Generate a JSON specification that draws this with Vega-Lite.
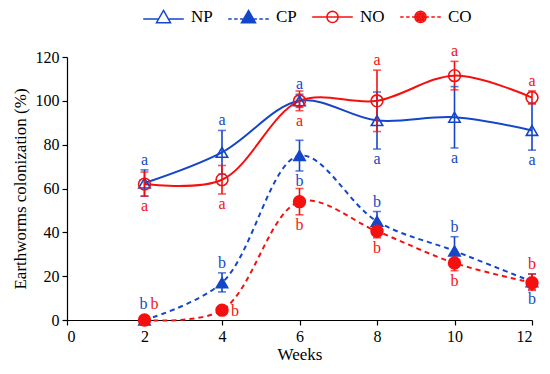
{
  "$schema": "https://vega.github.io/schema/vega-lite/v6.json",
  "width": 465,
  "height": 263,
  "autosize": "none",
  "padding": {"left": 67, "top": 57, "right": 18, "bottom": 54},
  "background": "white",
  "config": {
    "view": {"stroke": null},
    "font": "Liberation Serif",
    "axis": {"grid": false, "domainColor": "black", "tickColor": "black", "labelColor": "black", "titleColor": "black", "labelFont": "Liberation Serif", "titleFont": "Liberation Serif", "labelFontSize": 16, "titleFontSize": 17, "titleFontWeight": "normal", "tickSize": 5, "domainWidth": 1.2, "tickWidth": 1.2}
  },
  "data": {
    "values": [
      {"series": "NP", "week": 2, "value": 62.5, "lo": 56.5, "hi": 68.5, "letter": "a", "pos": "above"},
      {"series": "NP", "week": 4, "value": 76.5, "lo": 66.5, "hi": 86.5, "letter": "a", "pos": "above"},
      {"series": "NP", "week": 6, "value": 100, "lo": 97, "hi": 103, "letter": "a", "pos": "above"},
      {"series": "NP", "week": 8, "value": 91, "lo": 78, "hi": 104, "letter": "a", "pos": "below"},
      {"series": "NP", "week": 10, "value": 92.5, "lo": 78.5, "hi": 106.5, "letter": "a", "pos": "below"},
      {"series": "NP", "week": 12, "value": 86.5, "lo": 77.5, "hi": 99, "letter": "a", "pos": "below"},
      {"series": "CP", "week": 2, "value": 0, "lo": 0, "hi": 0, "letter": "b", "pos": "above2"},
      {"series": "CP", "week": 4, "value": 17, "lo": 12.8, "hi": 21.5, "letter": "b", "pos": "above"},
      {"series": "CP", "week": 6, "value": 75, "lo": 68, "hi": 82, "letter": "b", "pos": "below"},
      {"series": "CP", "week": 8, "value": 45, "lo": 40.5, "hi": 49.5, "letter": "b", "pos": "above"},
      {"series": "CP", "week": 10, "value": 31.5, "lo": 25.5, "hi": 38, "letter": "b", "pos": "above"},
      {"series": "CP", "week": 12, "value": 17.5, "lo": 14, "hi": 21, "letter": "b", "pos": "below"},
      {"series": "NO", "week": 2, "value": 62, "lo": 56.5, "hi": 67.5, "letter": "a", "pos": "below"},
      {"series": "NO", "week": 4, "value": 64, "lo": 57.5, "hi": 70.5, "letter": "a", "pos": "below"},
      {"series": "NO", "week": 6, "value": 100, "lo": 95.5, "hi": 104.5, "letter": "a", "pos": "below"},
      {"series": "NO", "week": 8, "value": 100, "lo": 86, "hi": 114, "letter": "a", "pos": "above"},
      {"series": "NO", "week": 10, "value": 111.5, "lo": 105, "hi": 118, "letter": "a", "pos": "above"},
      {"series": "NO", "week": 12, "value": 101.5, "lo": 98.5, "hi": 104.5, "letter": "a", "pos": "above"},
      {"series": "CO", "week": 2, "value": 0, "lo": 0, "hi": 0, "letter": "b", "pos": "above2r"},
      {"series": "CO", "week": 4, "value": 4.5, "lo": 4.5, "hi": 4.5, "letter": "b", "pos": "right"},
      {"series": "CO", "week": 6, "value": 54, "lo": 48, "hi": 60, "letter": "b", "pos": "below"},
      {"series": "CO", "week": 8, "value": 40.5, "lo": 37.5, "hi": 43.5, "letter": "b", "pos": "below"},
      {"series": "CO", "week": 10, "value": 26, "lo": 22.5, "hi": 29.5, "letter": "b", "pos": "below"},
      {"series": "CO", "week": 12, "value": 17, "lo": 13.5, "hi": 21, "letter": "b", "pos": "above"}
    ]
  },
  "encoding": {
    "x": {"field": "week", "type": "quantitative", "scale": {"domain": [0, 12], "nice": false}, "axis": {"title": "Weeks", "values": [0, 2, 4, 6, 8, 10, 12], "labelPadding": 3, "titlePadding": 2}}
  },
  "layer": [
    {
      "transform": [{"filter": "datum.week < 0"}],
      "mark": {"type": "point", "filled": false, "strokeWidth": 1.5, "opacity": 1},
      "encoding": {
        "y": {"field": "value", "type": "quantitative", "scale": {"domain": [0, 120], "nice": false}, "axis": {"title": "Earthworms colonization (%)", "values": [0, 20, 40, 60, 80, 100, 120], "labelPadding": 3, "titlePadding": 6}},
        "color": {"field": "series", "type": "nominal", "scale": {"domain": ["NP", "CP", "NO", "CO"], "range": ["#1446c8", "#1446c8", "#f51010", "#f51010"]},
          "legend": {
            "orient": "none", "legendX": 88, "legendY": -49, "direction": "horizontal", "title": null, "padding": 0,
            "labelFont": "Liberation Serif", "labelFontSize": 17, "labelColor": "black",
            "symbolSize": 196, "labelOffset": 19, "columnPadding": 12, "symbolStrokeWidth": 1.5, "symbolOpacity": 1
          }
        },
        "shape": {"field": "series", "type": "nominal", "scale": {"domain": ["NP", "CP", "NO", "CO"], "range": [
          "M-2.9,0.3H-0.8M0.8,0.3H2.9M0,-0.9L1,0.85L-1,0.85Z",
          "M-2.9,0.3H-2.4M-2.05,0.3H-1.55M-1.2,0.3H-0.8M0.8,0.3H1.2M1.55,0.3H2.05M2.4,0.3H2.9M0,-0.9L1,0.85L-1,0.85ZM0,-0.608L0.75,0.704L-0.75,0.704ZM0,-0.317L0.5,0.558L-0.5,0.558ZM0,-0.025L0.25,0.413L-0.25,0.413ZM0,0.2L0.05,0.3L-0.05,0.3Z",
          "M-2.9,0H2.9M0.8,0L0.739,0.306L0.566,0.566L0.306,0.739L0,0.8L-0.306,0.739L-0.566,0.566L-0.739,0.306L-0.8,0L-0.739,-0.306L-0.566,-0.566L-0.306,-0.739L0,-0.8L0.306,-0.739L0.566,-0.566L0.739,-0.306Z",
          "M-2.9,0H-2.4M-2.05,0H-1.55M-1.2,0H-0.8M0.8,0H1.2M1.55,0H2.05M2.4,0H2.9M0.8,0L0.739,0.306L0.566,0.566L0.306,0.739L0,0.8L-0.306,0.739L-0.566,0.566L-0.739,0.306L-0.8,0L-0.739,-0.306L-0.566,-0.566L-0.306,-0.739L0,-0.8L0.306,-0.739L0.566,-0.566L0.739,-0.306ZM0.6,0L0.424,0.424L0,0.6L-0.424,0.424L-0.6,0L-0.424,-0.424L0,-0.6L0.424,-0.424ZM0.4,0L0.283,0.283L0,0.4L-0.283,0.283L-0.4,0L-0.283,-0.283L0,-0.4L0.283,-0.283ZM0.2,0L0,0.2L-0.2,0L0,-0.2Z"
        ]}}
      }
    },
    {
      "transform": [{"filter": "datum.series === 'NP' || datum.series === 'NO'"}],
      "mark": {"type": "line", "interpolate": "catmull-rom", "strokeWidth": 2, "stroke": {"expr": "datum.series === 'NP' ? '#1446c8' : '#f51010'"}},
      "encoding": {"y": {"field": "value", "type": "quantitative"}, "detail": {"field": "series"}}
    },
    {
      "transform": [{"filter": "datum.series === 'CP' || datum.series === 'CO'"}],
      "mark": {"type": "line", "interpolate": "catmull-rom", "strokeWidth": 2, "strokeDash": [5, 4], "stroke": {"expr": "datum.series === 'CP' ? '#1446c8' : '#f51010'"}},
      "encoding": {"y": {"field": "value", "type": "quantitative"}, "detail": {"field": "series"}}
    },
    {
      "mark": {"type": "rule", "strokeWidth": 1.6, "stroke": {"expr": "datum.series === 'NP' || datum.series === 'CP' ? '#1446c8' : '#f51010'"}},
      "encoding": {"y": {"field": "lo", "type": "quantitative"}, "y2": {"field": "hi"}, "detail": {"field": "series"}}
    },
    {
      "mark": {"type": "tick", "orient": "horizontal", "size": 8, "thickness": 1.6, "fill": {"expr": "datum.series === 'NP' || datum.series === 'CP' ? '#1446c8' : '#f51010'"}},
      "encoding": {"y": {"field": "lo", "type": "quantitative"}, "detail": {"field": "series"}}
    },
    {
      "mark": {"type": "tick", "orient": "horizontal", "size": 8, "thickness": 1.6, "fill": {"expr": "datum.series === 'NP' || datum.series === 'CP' ? '#1446c8' : '#f51010'"}},
      "encoding": {"y": {"field": "hi", "type": "quantitative"}, "detail": {"field": "series"}}
    },
    {
      "transform": [{"filter": "datum.series === 'NP' || datum.series === 'CP'"}],
      "mark": {"type": "point", "shape": "triangle-up", "size": 130, "strokeWidth": 1.6, "opacity": 1, "filled": true,
        "stroke": "#1446c8", "fill": {"expr": "datum.series === 'CP' ? '#1446c8' : 'transparent'"}},
      "encoding": {"y": {"field": "value", "type": "quantitative"}}
    },
    {
      "transform": [{"filter": "datum.series === 'NO' || datum.series === 'CO'"}],
      "mark": {"type": "point", "shape": "circle", "size": 140, "strokeWidth": 1.6, "opacity": 1, "filled": true,
        "stroke": "#f51010", "fill": {"expr": "datum.series === 'CO' ? '#f51010' : 'transparent'"}},
      "encoding": {"y": {"field": "value", "type": "quantitative"}}
    },
    {
      "transform": [{"filter": "datum.pos === 'above'"}],
      "mark": {"type": "text", "baseline": "bottom", "dy": -2, "fontSize": 16, "font": "Liberation Serif", "fill": {"expr": "datum.series === 'NP' || datum.series === 'CP' ? '#1446c8' : '#f51010'"}},
      "encoding": {"y": {"field": "hi", "type": "quantitative"}, "text": {"field": "letter"}}
    },
    {
      "transform": [{"filter": "datum.pos === 'below'"}],
      "mark": {"type": "text", "baseline": "top", "dy": 2, "fontSize": 16, "font": "Liberation Serif", "fill": {"expr": "datum.series === 'NP' || datum.series === 'CP' ? '#1446c8' : '#f51010'"}},
      "encoding": {"y": {"field": "lo", "type": "quantitative"}, "text": {"field": "letter"}}
    },
    {
      "transform": [{"filter": "datum.pos === 'above2'"}],
      "mark": {"type": "text", "baseline": "bottom", "dy": -8, "dx": -1, "fontSize": 16, "font": "Liberation Serif", "fill": "#1446c8"},
      "encoding": {"y": {"field": "hi", "type": "quantitative"}, "text": {"field": "letter"}}
    },
    {
      "transform": [{"filter": "datum.pos === 'above2r'"}],
      "mark": {"type": "text", "baseline": "bottom", "dy": -8, "dx": 10, "fontSize": 16, "font": "Liberation Serif", "fill": "#f51010"},
      "encoding": {"y": {"field": "hi", "type": "quantitative"}, "text": {"field": "letter"}}
    },
    {
      "transform": [{"filter": "datum.pos === 'right'"}],
      "mark": {"type": "text", "baseline": "middle", "dx": 13, "dy": 1, "fontSize": 16, "font": "Liberation Serif", "fill": "#f51010"},
      "encoding": {"y": {"field": "value", "type": "quantitative"}, "text": {"field": "letter"}}
    }
  ]
}
